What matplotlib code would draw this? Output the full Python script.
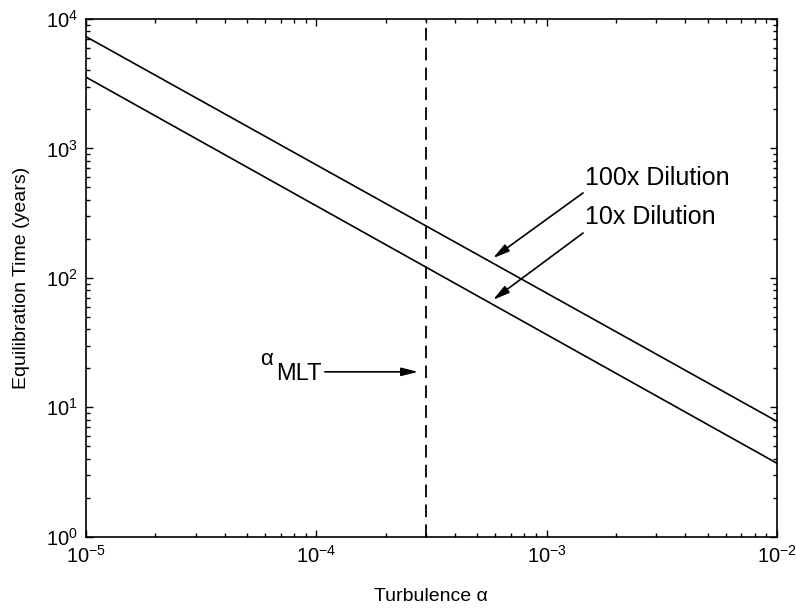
import matplotlib
matplotlib.use("Agg")
import matplotlib.pyplot as plt

plt.rcParams['font.family'] = ['Liberation Sans', 'DejaVu Sans']
plt.rcParams['mathtext.fontset'] = 'custom'
plt.rcParams['mathtext.rm'] = 'Liberation Sans'
plt.rcParams['mathtext.it'] = 'Liberation Sans:italic'
plt.rcParams['mathtext.sf'] = 'Liberation Sans'

# data
alpha = [1e-5, 1e-2]
t_100x = [7300, 7.8]
t_10x = [3550, 3.7]
alpha_mlt = 3e-4

xticks = [1e-5, 1e-4, 1e-3, 1e-2]
xticklabels = ['$10^{-5}$', '$10^{-4}$', '$10^{-3}$', '$10^{-2}$']
yticks = [1e0, 1e1, 1e2, 1e3, 1e4]
yticklabels = ['$10^{0}$', '$10^{1}$', '$10^{2}$', '$10^{3}$', '$10^{4}$']

fig = plt.figure(figsize=(7.96, 6.10), dpi=100)
ax = fig.add_axes([0.108, 0.12, 0.868, 0.849])

ax.loglog(alpha, t_100x, color='black', lw=1.2)
ax.loglog(alpha, t_10x, color='black', lw=1.2)
ax.axvline(alpha_mlt, color='black', lw=1.3, linestyle=(0, (7, 4)))

ax.set_xlim(1e-5, 1e-2)
ax.set_ylim(1e0, 1e4)
ax.set_xticks(xticks)
ax.set_xticklabels(xticklabels, fontsize=14.5)
ax.set_yticks(yticks)
ax.set_yticklabels(yticklabels, fontsize=14.5)

ax.tick_params(which='both', direction='in', top=True, right=True, width=1)
ax.tick_params(which='major', length=5, pad=6)
ax.tick_params(which='minor', length=3)
for s in ax.spines.values():
    s.set_linewidth(1.2)

ax.set_xlabel('Turbulence \u03b1', fontsize=14, labelpad=15)
ax.set_ylabel('Equilibration Time (years)', fontsize=14, labelpad=11)

arrow = dict(arrowstyle='-|>,head_length=1.0,head_width=0.25', color='black',
             lw=1.2, shrinkA=0, shrinkB=0)

ax.annotate('', xy=(5.85e-4, 142), xytext=(1.44e-3, 453), arrowprops=arrow)
ax.annotate('', xy=(5.85e-4, 67.6), xytext=(1.44e-3, 222), arrowprops=arrow)
ax.text(1.47e-3, 592, '100x Dilution', fontsize=18, va='center', ha='left')
ax.text(1.47e-3, 296, '10x Dilution', fontsize=18, va='center', ha='left')

ax.annotate('', xy=(2.77e-4, 18.8), xytext=(1.09e-4, 18.8), arrowprops=arrow)
ax.text(1.06e-4, 18.0, 'MLT', fontsize=17, va='center', ha='right')
ax.text(6.5e-5, 23.3, '\u03b1', fontsize=16, va='center', ha='right')

fig.savefig('out.png', dpi=100)
